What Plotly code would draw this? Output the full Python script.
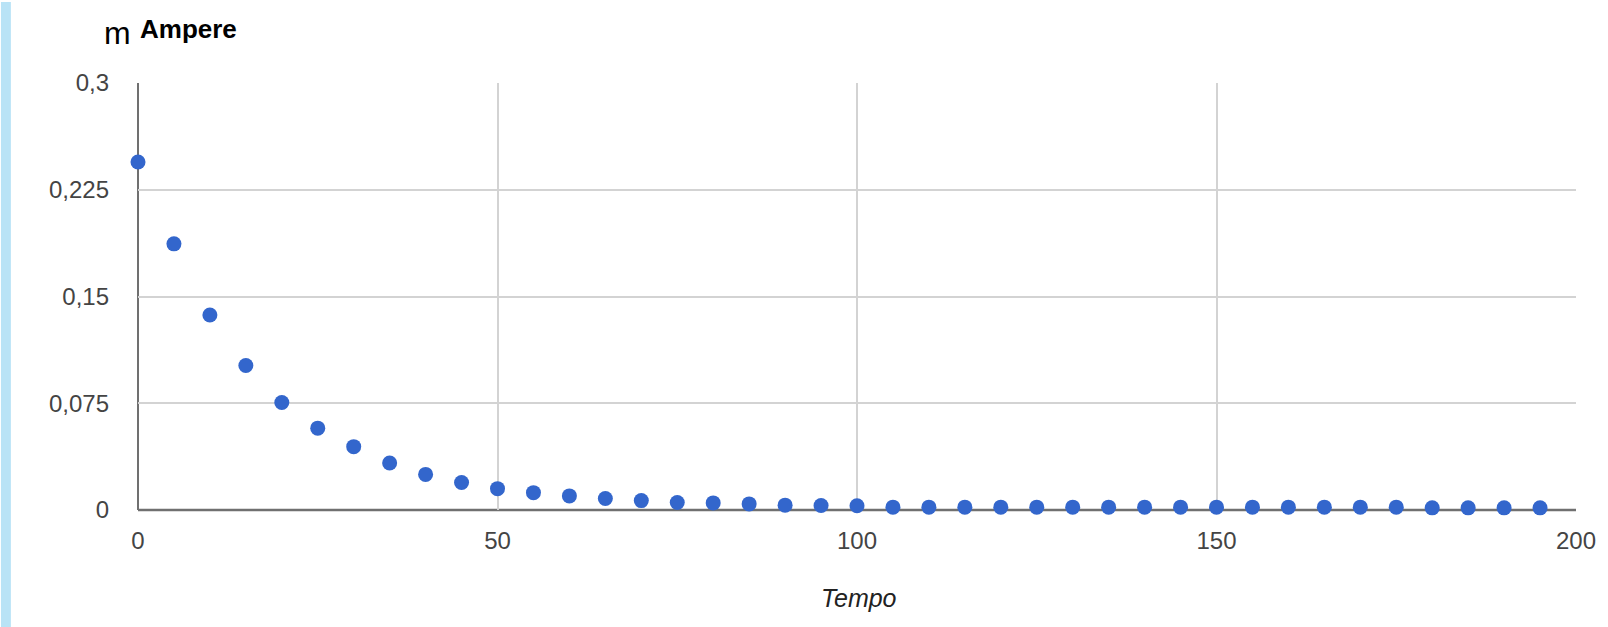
import plotly.graph_objects as go

tempo = [0, 5, 10, 15, 20, 25, 30, 35, 40, 45, 50, 55, 60, 65, 70, 75, 80, 85, 90, 95,
         100, 105, 110, 115, 120, 125, 130, 135, 140, 145, 150, 155, 160, 165, 170, 175,
         180, 185, 190, 195]
ampere = [0.2445, 0.187, 0.137, 0.1015, 0.0755, 0.0575, 0.0445, 0.033, 0.025, 0.0193,
          0.015, 0.0122, 0.0099, 0.0081, 0.0066, 0.0053, 0.005, 0.0043, 0.0034, 0.0032,
          0.003, 0.002, 0.002, 0.002, 0.002, 0.002, 0.002, 0.002, 0.002, 0.002,
          0.002, 0.002, 0.002, 0.002, 0.002, 0.002, 0.0015, 0.0015, 0.0015, 0.0015]

y_ticks = [0, 0.075, 0.15, 0.225, 0.3]
y_labels = ["0", "0,075", "0,15", "0,225", "0,3"]
x_ticks = [0, 50, 100, 150, 200]
x_labels = ["0", "50", "100", "150", "200"]

W, H = 1608, 627
L, R, T, B = 138, 22, 83, 117
pw, ph = W - L - R, H - T - B

def px(xp):
    return (xp - L) / pw

def py(yp):
    return (H - B - yp) / ph

fig = go.Figure()
fig.add_trace(go.Scatter(
    x=tempo, y=ampere, mode="markers",
    marker=dict(color="#3366cc", size=15, line=dict(width=0)),
    cliponaxis=False, showlegend=False,
))

font = "Liberation Sans, Arial, sans-serif"
fig.update_layout(
    width=W, height=H,
    margin=dict(l=L, r=R, t=T, b=B),
    paper_bgcolor="white", plot_bgcolor="white",
    font=dict(family=font, size=24, color="#444"),
    xaxis=dict(range=[0, 200], tickvals=x_ticks, ticktext=x_labels,
               showgrid=True, gridcolor="#d3d3d3", gridwidth=1.5,
               zeroline=False, showline=False, ticks="",
               ticklabelstandoff=14, tickfont=dict(size=24, color="#444"),
               fixedrange=True),
    yaxis=dict(range=[0, 0.3], tickvals=y_ticks, ticktext=y_labels,
               showgrid=True, gridcolor="#d3d3d3", gridwidth=1.5,
               zeroline=False, showline=False, ticks="",
               ticklabelstandoff=28, tickfont=dict(size=24, color="#444"),
               fixedrange=True),
)

# axis lines
fig.add_shape(type="line", xref="paper", yref="paper", x0=0, x1=1, y0=0, y1=0,
              line=dict(color="#707070", width=2.5), layer="below")
fig.add_shape(type="line", xref="paper", yref="paper", x0=0, x1=0, y0=0, y1=1,
              line=dict(color="#707070", width=2), layer="below")

# left blue bar
fig.add_shape(type="rect", xref="paper", yref="paper",
              x0=px(0), x1=px(10), y0=py(H), y1=py(2),
              fillcolor="#b9e3f6", line=dict(width=0), layer="below")

fig.add_annotation(text="m", xref="paper", yref="paper", x=px(133), y=py(33),
                   xanchor="right", yanchor="middle", showarrow=False,
                   font=dict(family=font, size=32, color="#000"))
fig.add_annotation(text="<b>Ampere</b>", xref="paper", yref="paper", x=px(138), y=py(29),
                   xanchor="left", yanchor="middle", showarrow=False,
                   font=dict(family=font, size=26, color="#000"))
fig.add_annotation(text="<i>Tempo</i>", xref="paper", yref="paper", x=px(864), y=py(598),
                   xanchor="center", yanchor="middle", showarrow=False,
                   font=dict(family=font, size=25, color="#222"))

fig.write_html("out.html",
               config={"displayModeBar": False},
               post_script="document.body.style.margin='0px';"
                           "document.body.style.overflow='hidden';")
